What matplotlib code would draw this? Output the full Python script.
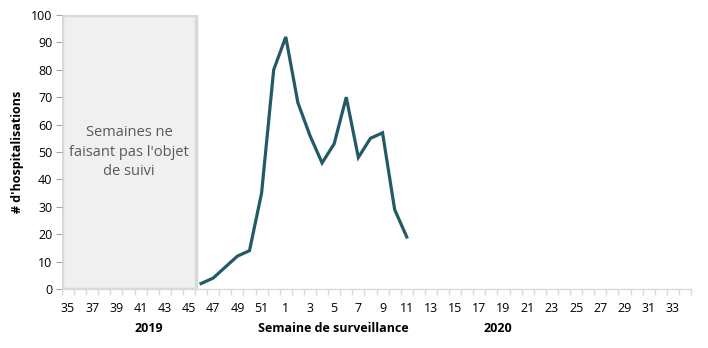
import matplotlib.pyplot as plt
import numpy as np

weeks_2019 = list(range(35, 53))
weeks_2020 = list(range(1, 35))
weeks = weeks_2019 + weeks_2020

# hospitalisations per week, starting at week 46 of 2019
first_week = 46
hosp = [2, 4, 8, 12, 14, 35, 80, 92, 68, 56, 46, 53, 70, 48, 55, 57, 29, 19]

box_text = "Semaines ne\nfaisant pas l'objet\nde suivi"
plt.rcParams['font.family'] = ['Open Sans', 'DejaVu Sans']

fig = plt.figure(figsize=(7.08, 3.48), dpi=100)
ax = fig.add_axes([62 / 708, 59 / 348, 629 / 708, 274 / 348])

x = np.arange(len(weeks))
start = weeks.index(first_week)
ax.plot(x[start:start + len(hosp)], hosp, color='#245a66', lw=2.3, solid_joinstyle='miter')

# unmonitored weeks box
box_end = weeks.index(45) + 0.57
ax.add_patch(plt.Rectangle((-0.5, 0), box_end + 0.5, 100, facecolor='#f0f0f0',
                           edgecolor='#d9d9d9', lw=2.5, zorder=0))
ax.text((box_end - 0.5) / 2, 50, box_text, ha='center', va='center',
        fontsize=10.5, color='#595959', linespacing=1.45)

ax.set_xlim(-0.5, len(weeks) - 0.5)
ax.set_ylim(0, 100)
ax.set_yticks(range(0, 101, 10))
ax.set_xticks(x[::2])
ax.set_xticklabels([str(w) for w in weeks[::2]])
ax.set_xticks(np.arange(-0.5, len(weeks), 1), minor=True)
ax.tick_params(axis='x', which='major', length=0, pad=9, labelsize=9, colors='#000000')
ax.tick_params(axis='x', which='minor', length=4, color='#d9d9d9', width=1)
ax.tick_params(axis='y', length=4, color='#a6a6a6', labelsize=9, pad=3)

for s in ['top', 'right', 'left']:
    ax.spines[s].set_visible(False)
ax.spines['bottom'].set_color('#d9d9d9')
ax.spines['bottom'].set_linewidth(1)

ax.set_ylabel("# d'hospitalisations", fontsize=9, fontweight='bold', labelpad=5)

ty = 1 - 328 / 348
fig.text(149 / 708, ty, '2019', ha='center', va='center', fontsize=9, fontweight='bold')
fig.text(333 / 708, ty, 'Semaine de surveillance', ha='center', va='center',
         fontsize=9, fontweight='bold')
fig.text(498 / 708, ty, '2020', ha='center', va='center', fontsize=9, fontweight='bold')

fig.savefig('out.png', dpi=100)
